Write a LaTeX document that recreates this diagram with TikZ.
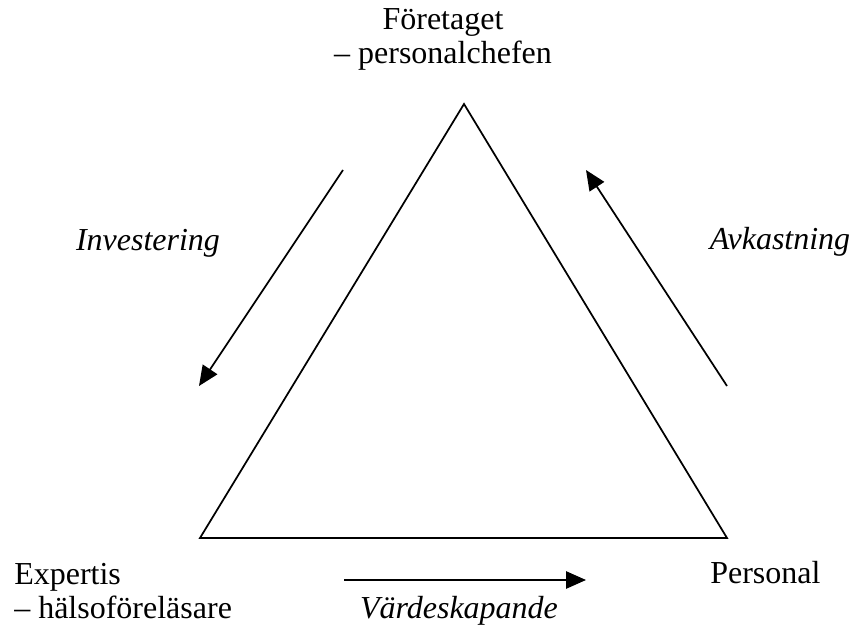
\documentclass[tikz,border=0pt]{standalone}
\usepackage{fontspec}
\setmainfont{Liberation Serif}
\usetikzlibrary{arrows.meta,positioning}
\definecolor{ink}{RGB}{0,0,0}
\tikzset{
  lbl/.style={inner sep=0pt,font=\fontsize{24}{25.5}\selectfont,align=center},
  flow/.style={inner sep=0pt,font=\fontsize{24}{24}\selectfont\itshape},
  edge/.style={draw=ink,line width=1.3pt,line join=miter},
  arr/.style={-{Triangle[length=15pt,width=13pt]},line width=1.3pt,ink},
}
\begin{document}
\begin{tikzpicture}[x=0.75pt,y=-0.75pt]
\useasboundingbox (0,0) rectangle (853,628);
% corners of the triangle
\coordinate (top) at (464,104);
\coordinate (bl) at (200,538);
\coordinate (br) at (727,538);
\draw[edge] (top)--(bl)--(br)--cycle;
% labels at the corners (base = last line)
\node[lbl,anchor=base] (firm) at (443,63) {Företaget\\– personalchefen};
\node[lbl,anchor=base west,align=left] (expert) at (14,618) {Expertis\\– hälsoföreläsare};
\node[lbl,anchor=base west] (staff) at (710,583) {Personal};
% flows
\coordinate (i1) at (343,170);
\coordinate (i2) at (199,386);
\coordinate (a1) at (727,386);
\coordinate (a2) at (586,170);
\coordinate (v1) at (344,580);
\coordinate (v2) at (586,580);
\draw[arr] (i1)--(i2);
\draw[arr] (a1)--(a2);
\draw[arr] (v1)--(v2);
\node[flow,anchor=base] (inv) at (148,250) {Investering};
\node[flow,anchor=base] (avk) at (780,249) {Avkastning};
\node[flow,anchor=base] (vard) at (459,618) {Värdeskapande};
\end{tikzpicture}
\end{document}
